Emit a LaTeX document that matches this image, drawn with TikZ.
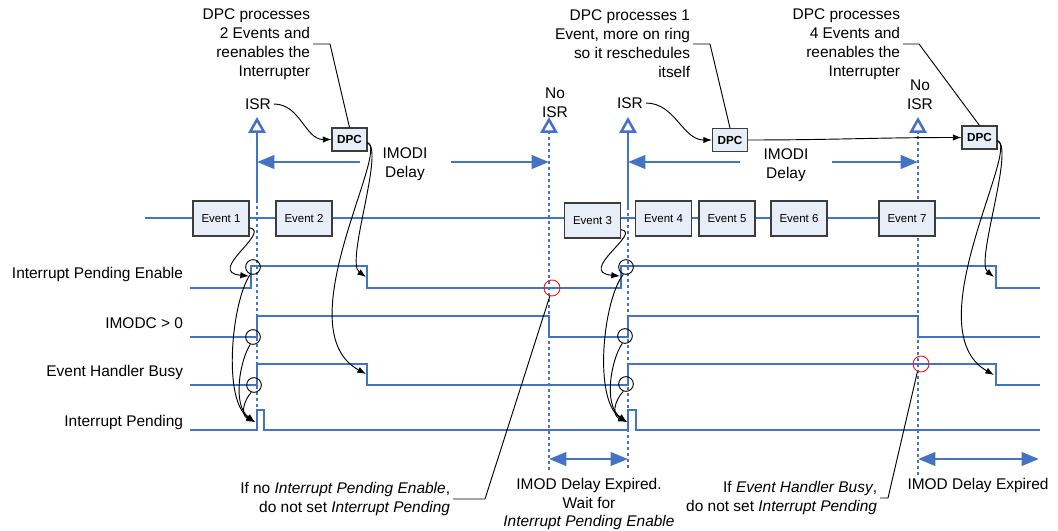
\documentclass[tikz,border=0pt]{standalone}
\usepackage{fontspec}
\setmainfont{Liberation Sans}
\usepackage{tikz}
\usetikzlibrary{arrows.meta, positioning, calc}
\definecolor{sigblue}{RGB}{68,114,196}
\definecolor{boxfill}{RGB}{232,238,248}
\definecolor{boxdraw}{RGB}{60,60,60}
\definecolor{ringred}{RGB}{235,30,30}
\tikzset{
  lbl/.style={font=\fontsize{11.6}{14.2}\selectfont, inner sep=2pt},
  siglabel/.style={lbl, anchor=east},
  evblock/.style={rectangle, draw=boxdraw, fill=boxfill, line width=0.8pt,
    minimum width=42pt, minimum height=26.25pt, inner sep=0pt,
    font=\fontsize{8.6}{10}\selectfont},
  dpcblock/.style={rectangle, draw=boxdraw, fill=boxfill, line width=0.8pt,
    minimum width=26.25pt, minimum height=17.25pt, inner sep=0pt,
    font=\bfseries\fontsize{8.8}{10}\selectfont},
  signal/.style={sigblue, line width=2pt},
  dotline/.style={sigblue, line width=1.6pt, dash pattern=on 2.2pt off 2.3pt},
  israrrow/.style={sigblue, line width=1.9pt, -{Triangle[fill=white, length=12pt, width=13pt]}},
  delayarrow/.style={sigblue, line width=2.2pt, -{Triangle[length=13pt, width=10pt]}},
  spanarrow/.style={sigblue, line width=2.2pt, {Triangle[length=13pt, width=10pt]}-{Triangle[length=13pt, width=10pt]}},
  causearrow/.style={-{Latex[length=6.5pt, width=4.8pt]}, black, line width=0.7pt},
  leader/.style={black, line width=0.7pt},
  ring/.style={circle, draw=black, line width=0.7pt, minimum size=11pt, inner sep=0pt},
  redring/.style={circle, draw=ringred, line width=0.7pt, minimum size=12pt, inner sep=0pt}
}

\begin{document}
\begin{tikzpicture}[x=0.75pt, y=-0.75pt]
  \useasboundingbox (0,0) rectangle (1058,531);

  % Rows and marker positions
  \coordinate (delayrow) at (0,162);
  \coordinate (spanrow) at (0,459);
  \coordinate (spanend) at (1039,459);
  \coordinate (isrA) at (257,117);
  \coordinate (noisrA) at (549,117);
  \coordinate (isrB) at (628,117);
  \coordinate (noisrB) at (918,117);

  % Signal names
  \node[siglabel] (nipe) at (186,275) {Interrupt Pending Enable};
  \node[siglabel] (nimodc) at (186,323) {IMODC > 0};
  \node[siglabel] (nehb) at (186,373) {Event Handler Busy};
  \node[siglabel] (nip) at (186,423) {Interrupt Pending};

  % Waveforms
  \draw[signal] (145,218) -- (1040,218);
  \draw[signal] (190,288) -| (251,266) -| (367,288) -| (621,266) -| (996,288) -- (1040,288);
  \draw[signal] (190,337) -| (257,316) -| (549,337) -| (628,316) -| (918,337) -- (1040,337);
  \draw[signal] (190,385) -| (257,364) -| (367,385) -| (628,364) -| (996,385) -- (1040,385);
  \draw[signal] (190,430) -| (257,410) -| (264,430) -| (628,410) -| (636,430) -- (1040,430);

  % ISR / No ISR markers
  \draw[dotline] (257,200) -- (257,432);
  \draw[israrrow] (257,202) -- (isrA);
  \draw[dotline] (628,207) -- (628,470);
  \draw[israrrow] (628,209) -- (isrB);
  \draw[dotline] (549,470) -- (549,133);
  \draw[israrrow] (549,134) -- (noisrA);
  \draw[dotline] (918,475) -- (918,133);
  \draw[israrrow] (918,134) -- (noisrB);

  \node[lbl] (isrlblA) at (258,104) {ISR};
  \node[lbl] (isrlblB) at (630,103) {ISR};
  \node[lbl, align=center] (noisrlblA) at (555,103) {No\\ISR};
  \node[lbl, align=center] (noisrlblB) at (920,95) {No\\ISR};

  % Events
  \node[evblock] (evone) at (221,218.5) {Event 1};
  \node[evblock] (evtwo) at (304,218.5) {Event 2};
  \node[evblock] (evthree) at (592.5,220.5) {Event 3};
  \node[evblock] (evfour) at (663.5,218.5) {Event 4};
  \node[evblock] (evfive) at (727,218.5) {Event 5};
  \node[evblock] (evsix) at (799,218.5) {Event 6};
  \node[evblock] (evseven) at (907,218.5) {Event 7};

  % DPCs
  \node[dpcblock] (dpcA) at (349.5,139.5) {DPC};
  \node[dpcblock] (dpcB) at (730,140) {DPC};
  \node[dpcblock] (dpcC) at (979.5,137.5) {DPC};
  \draw[causearrow] (isrlblA.east) to[out=0, in=180] (dpcA.west);
  \draw[causearrow] (isrlblB.east) to[out=0, in=180] (dpcB.west);
  \draw[causearrow] (dpcB.east) to[out=0, in=180] (dpcC.west);

  % IMODI delay
  \node[lbl, align=center] (delayA) at (405,164) {IMODI\\Delay};
  \node[lbl, align=center] (delayB) at (786,165) {IMODI\\Delay};
  \draw[delayarrow] ($(delayA.west |- delayrow)+(-20,0)$) -- (isrA |- delayrow);
  \draw[delayarrow] ($(delayA.east |- delayrow)+(21,0)$) -- (noisrA |- delayrow);
  \draw[delayarrow] ($(delayB.west |- delayrow)+(-21,0)$) -- (isrB |- delayrow);
  \draw[delayarrow] ($(delayB.east |- delayrow)+(21,0)$) -- (noisrB |- delayrow);

  % Edge rings
  \node[ring] (cA1) at (253,267) {};
  \node[ring] (cA2) at (253,337) {};
  \node[ring] (cA3) at (254,385) {};
  \node[ring] (cB1) at (626,267) {};
  \node[ring] (cB2) at (625,336) {};
  \node[ring] (cB3) at (626,384) {};
  \node[redring] (redA) at (552,288) {};
  \node[redring] (redB) at (921,364) {};

  \coordinate (ipeupA) at (249,276);
  \coordinate (ipupA) at (255,422);
  \coordinate (ipeupB) at (620,276);
  \coordinate (ipupB) at (627,422);
  \coordinate (ipedownA) at (366,277);
  \coordinate (ehdownA) at (366,374);
  \coordinate (ipedownC) at (994,277);
  \coordinate (ehdownC) at (994,375);

  % Causes, first interrupt
  \draw[causearrow] (evone.-18) .. controls (272,232) and (205,272) .. (ipeupA);
  \draw[causearrow] (cA1.250) .. controls (232,300) and (222,400) .. (ipupA);
  \draw[causearrow] (cA2.250) .. controls (240,360) and (232,405) .. (ipupA);
  \draw[causearrow] (cA3.250) .. controls (244,400) and (240,415) .. (ipupA);
  \draw[causearrow] (dpcA.-10) .. controls (385,150) and (345,262) .. (ipedownA);
  \draw[causearrow] (dpcA.-10) .. controls (390,150) and (285,330) .. (ehdownA);

  % Causes, second interrupt
  \draw[causearrow] (evthree.-18) .. controls (643,232) and (576,272) .. (ipeupB);
  \draw[causearrow] (cB1.250) .. controls (603,300) and (593,400) .. (ipupB);
  \draw[causearrow] (cB2.250) .. controls (611,360) and (603,405) .. (ipupB);
  \draw[causearrow] (cB3.250) .. controls (615,400) and (611,415) .. (ipupB);
  \draw[causearrow] (dpcC.-10) .. controls (1015,148) and (975,262) .. (ipedownC);
  \draw[causearrow] (dpcC.-10) .. controls (1020,148) and (915,330) .. (ehdownC);

  % Notes
  \node[lbl, align=right, anchor=east] (annA) at (313,44) {DPC processes\\2 Events and\\reenables the\\Interrupter};
  \node[lbl, align=right, anchor=east] (annB) at (693,44) {DPC processes 1\\Event, more on ring\\so it reschedules\\itself};
  \node[lbl, align=right, anchor=east] (annC) at (903,44) {DPC processes\\4 Events and\\reenables the\\Interrupter};
  \draw[leader] (annA.east) -- ++(17,0) -- (dpcA.north);
  \draw[leader] (annB.east) -- ++(17,0) -- (dpcB.north);
  \draw[leader] (annC.east) -- ++(16,0) -- (dpcC.north);

  \node[lbl, align=right, anchor=east] (annD) at (453,499) {If no \textit{Interrupt Pending Enable},\\do not set \textit{Interrupt Pending}};
  \node[lbl, align=right, anchor=east] (annE) at (880,498) {If \textit{Event Handler Busy},\\do not set \textit{Interrupt Pending}};
  \draw[leader] (annD.east) -- ++(32,0) -- (redA.255);
  \draw[leader] (annE.east) -- ++(8,0) -- (redB.245);

  % IMOD delay expired
  \draw[spanarrow] (noisrA |- spanrow) -- (isrB |- spanrow);
  \draw[spanarrow] (noisrB |- spanrow) -- (spanend);
  \node[lbl, align=center] (expA) at (589,504) {IMOD Delay Expired.\\Wait for\\\textit{Interrupt Pending Enable}};
  \node[lbl] (expB) at (978,486) {IMOD Delay Expired};
\end{tikzpicture}
\end{document}
